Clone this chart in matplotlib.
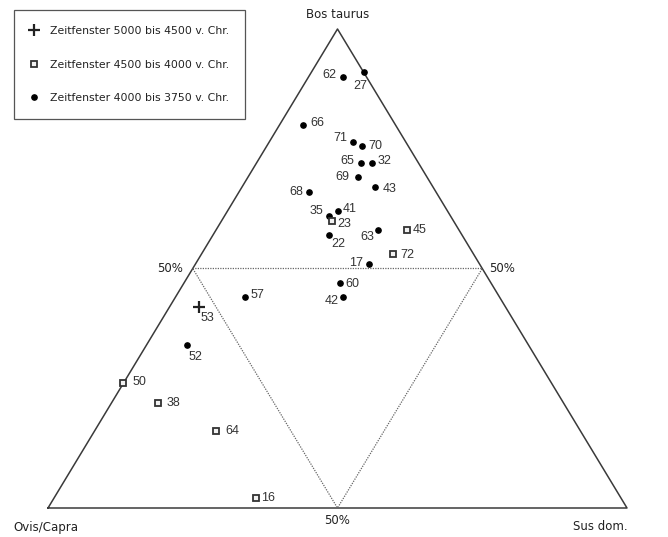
import numpy as np
import matplotlib
matplotlib.use('Agg')
import matplotlib.pyplot as plt
from matplotlib.lines import Line2D

# Anteile in % : Bos taurus, Ovis/Capra, Sus dom.
# Zeitfenster 5000 bis 4500 v. Chr.
ids_a = ['53']
bos_a = [42]
ovis_a = [53]
sus_a = [5]

# Zeitfenster 4500 bis 4000 v. Chr.
ids_b = ['23', '45', '72', '50', '38', '64', '16']
bos_b = [60, 58, 53, 26, 22, 16, 2]
ovis_b = [21, 9, 14, 74, 70, 63, 63]
sus_b = [19, 33, 33, 0, 8, 21, 35]

# Zeitfenster 4000 bis 3750 v. Chr.
ids_c = ['62', '27', '66', '71', '70', '65', '32', '69', '68', '43',
         '41', '35', '22', '63', '17', '60', '42', '57', '52']
bos_c = [90, 91, 80, 76.5, 75.5, 72, 72, 69, 66, 67, 62, 61, 57, 58, 51, 47, 44, 44, 34]
ovis_c = [4, 0, 16, 9, 8, 10, 8, 12, 22, 10, 19, 21, 23, 14, 19, 26, 27, 44, 59]
sus_c = [6, 9, 4, 14.5, 16.5, 18, 20, 19, 12, 23, 19, 18, 20, 28, 30, 27, 29, 12, 7]

# Beschriftungs-Versatz in Pixel (dx, dy nach unten)
offs = {'62': (-14, -2), '27': (-3, 14), '66': (15, -2), '71': (-13, -4),
        '70': (13, 0), '65': (-13, -2), '32': (12, -2), '69': (-15, 0),
        '68': (-12, 0), '43': (14, 2), '41': (12, -2), '35': (-12, -5),
        '23': (13, 3), '22': (9, 9), '63': (-11, 7), '45': (13, 0),
        '72': (15, 1), '17': (-13, -1), '60': (12, 1), '42': (-12, 4),
        '57': (13, -2), '53': (9, 11), '52': (8, 12), '50': (16, -1),
        '38': (15, 0), '64': (16, 0), '16': (12, 0)}


def tern(bos, ovis, sus):
    bos = np.array(bos, float)
    ovis = np.array(ovis, float)
    sus = np.array(sus, float)
    tot = bos + ovis + sus
    b = bos / tot
    s = sus / tot
    return s + b / 2, b


W, H = 668, 537
fig = plt.figure(figsize=(W / 100, H / 100), dpi=100)
ax = fig.add_axes([48 / W, 29 / H, 579 / W, 479 / H])
ax.set_xlim(0, 1)
ax.set_ylim(0, 1)
ax.axis('off')

# Dreieck
ax.plot([0, 1, 0.5, 0], [0, 0, 1, 0], color='#3a3a3a', lw=1.1, clip_on=False)
# inneres Dreieck (50%)
ax.plot([0.25, 0.75, 0.5, 0.25], [0.5, 0.5, 0, 0.5], color='#666666', lw=0.9,
        ls=(0, (1, 1)), clip_on=False)

lab_font = dict(family='Liberation Sans', fontsize=9, color='#333333')


def punkte(ids, x, y, **kw):
    ax.plot(x, y, ls='none', clip_on=False, zorder=3, **kw)
    for i, t in enumerate(ids):
        dx, dy = offs[t]
        ax.annotate(t, (x[i], y[i]), xytext=(dx, -dy), textcoords='offset pixels',
                    ha='center', va='center', **lab_font)


xa, ya = tern(bos_a, ovis_a, sus_a)
xb, yb = tern(bos_b, ovis_b, sus_b)
xc, yc = tern(bos_c, ovis_c, sus_c)

sty_a = dict(marker='+', ms=8, mew=1.6, color='#222222')
sty_b = dict(marker='s', ms=5, mew=1.3, mec='#333333', mfc='#f2f2f2')
sty_c = dict(marker='o', ms=3.8, color='black')

punkte(ids_c, xc, yc, **sty_c)
punkte(ids_b, xb, yb, **sty_b)
punkte(ids_a, xa, ya, **sty_a)

# Ecken / 50%
vf = dict(family='DejaVu Sans', fontsize=8.5, color='#222222')
ax.annotate('Bos taurus', (0.5, 1), xytext=(0, 15), textcoords='offset pixels',
            ha='center', va='center', **vf)
ax.annotate('Ovis/Capra', (0, 0), xytext=(-2, -19), textcoords='offset pixels',
            ha='center', va='center', **vf)
ax.annotate('Sus dom.', (1, 0), xytext=(-27, -19), textcoords='offset pixels',
            ha='center', va='center', **vf)
ax.annotate('50%', (0.5, 0), xytext=(0, -13), textcoords='offset pixels',
            ha='center', va='center', **vf)
ax.annotate('50%', (0.25, 0.5), xytext=(-10, 0), textcoords='offset pixels',
            ha='right', va='center', **vf)
ax.annotate('50%', (0.75, 0.5), xytext=(7, 0), textcoords='offset pixels',
            ha='left', va='center', **vf)

# Legende
handles = [Line2D([], [], ls='none', **sty_a),
           Line2D([], [], ls='none', **sty_b),
           Line2D([], [], ls='none', **sty_c)]
labels = ['Zeitfenster 5000 bis 4500 v. Chr.',
          'Zeitfenster 4500 bis 4000 v. Chr.',
          'Zeitfenster 4000 bis 3750 v. Chr.']
leg = fig.legend(handles, labels, loc='upper left', bbox_to_anchor=(14 / W, 1 - 10 / H),
                 fancybox=False, edgecolor='#555555', framealpha=1,
                 prop={'family': 'DejaVu Sans', 'size': 7.8}, labelspacing=2.15,
                 handlelength=0.6, handletextpad=1.2, borderpad=1.5, borderaxespad=0)
leg.get_frame().set_linewidth(0.9)
for t in leg.get_texts():
    t.set_color('#222222')

fig.savefig('out.png', dpi=100)
